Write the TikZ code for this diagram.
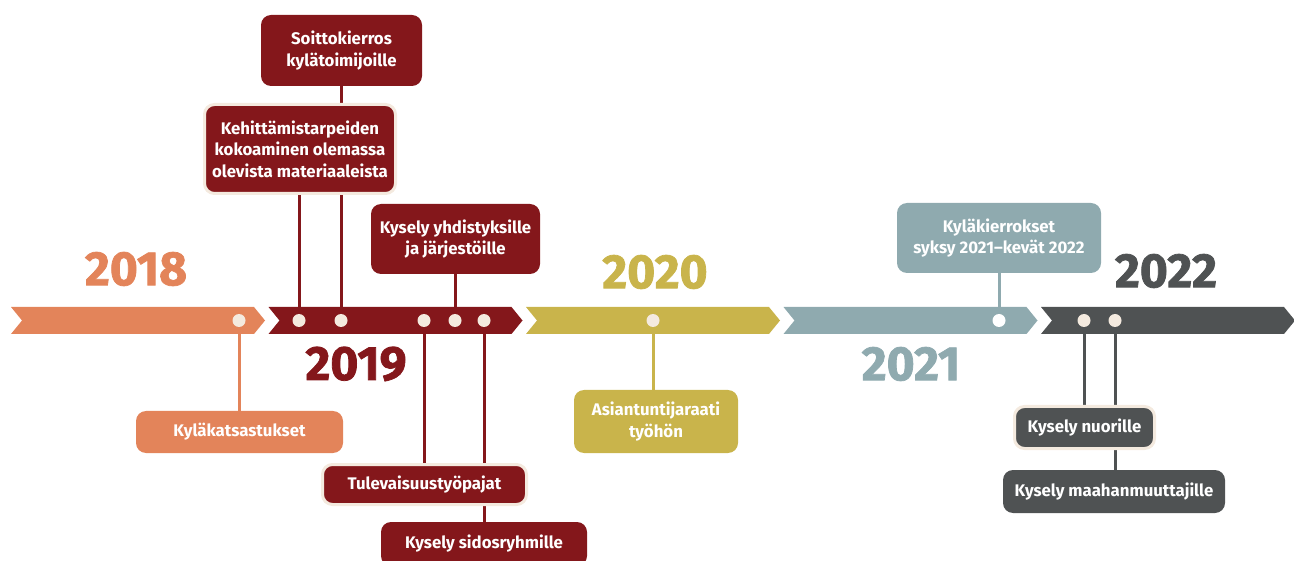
\documentclass[tikz,border=0pt]{standalone}
\usepackage{fontspec}
\setmainfont{Fira Sans}
\newfontfamily\yearfont[BoldFeatures={FakeBold=1.6}]{Fira Sans}
\usetikzlibrary{positioning,calc,backgrounds}
\definecolor{tlOrange}{HTML}{E3845A}
\definecolor{tlRed}{HTML}{84171B}
\definecolor{tlGold}{HTML}{C9B44B}
\definecolor{tlSlate}{HTML}{8FAAAF}
\definecolor{tlDark}{HTML}{4F5253}
\definecolor{tlCream}{HTML}{F4EADF}
\tikzset{
  event/.style={circle, fill=tlCream, minimum size=13pt, inner sep=0pt},
  evbox/.style={
    rounded corners=10pt, fill=#1, text=white, inner sep=0pt,
    font=\fontsize{16.8}{21.5}\selectfont\bfseries, align=center
  },
  hilite/.style={draw=tlCream, line width=3pt},
  year/.style={font=\yearfont\fontsize{48}{48}\selectfont\bfseries, text=#1, inner sep=0pt},
  stem/.style={draw=#1, line width=3pt}
}

\begin{document}
\begin{tikzpicture}[x=1pt, y=-1pt]
  \clip (0,0) rectangle (1294,561);
  % year bands
  \foreach \s/\c in {11/tlOrange, 268.5/tlRed, 526/tlGold, 783.5/tlSlate, 1041/tlDark}
    \fill[\c] (\s,307) -- (\s+243,307) -- (\s+254,320.5) -- (\s+243,334)
      -- (\s,334) -- (\s+11,320.5) -- cycle;

  \node[year=tlOrange] (y18) at (136,269) {2018};
  \node[year=tlRed] (y19) at (356,364) {2019};
  \node[year=tlGold] (y20) at (655,272) {2020};
  \node[year=tlSlate] (y21) at (911,364) {2021};
  \node[year=tlDark] (y22) at (1166,271) {2022};

  \node[event] (d-kat) at (239,320.5) {};
  \node[event] (d-keh) at (299,320.5) {};
  \node[event] (d-soi) at (341,320.5) {};
  \node[event] (d-tul) at (424,320.5) {};
  \node[event] (d-yhd) at (455,320.5) {};
  \node[event] (d-sid) at (484,320.5) {};
  \node[event] (d-asi) at (653,320.5) {};
  \node[event, fill=white] (d-kie) at (999,320.5) {};
  \node[event] (d-nuo) at (1084,320.5) {};
  \node[event] (d-maa) at (1115,320.5) {};

  \node[evbox=tlRed, minimum width=161pt, minimum height=71pt] (soi) at (341.5,50.5)
    {Soittokierros\\kylätoimijoille};
  \node[evbox=tlRed, hilite, minimum width=191pt, minimum height=89pt] (keh) at (300,149)
    {Kehittämistarpeiden\\kokoaminen olemassa\\olevista materiaaleista};
  \node[evbox=tlRed, minimum width=169pt, minimum height=70pt] (yhd) at (455.5,239)
    {Kysely yhdistyksille\\ja järjestöille};
  \node[evbox=tlOrange, minimum width=207pt, minimum height=42pt] (kat) at (239.5,432)
    {Kyläkatsastukset};
  \node[evbox=tlRed, hilite, minimum width=204pt, minimum height=40pt] (tul) at (424.5,484.5)
    {Tulevaisuustyöpajat};
  \node[evbox=tlRed, minimum width=206pt, minimum height=44pt] (sid) at (484,544)
    {Kysely sidosryhmille};
  \node[evbox=tlGold, minimum width=164pt, minimum height=63pt] (asi) at (656,421.5)
    {Asiantuntijaraati\\työhön};
  \node[evbox=tlSlate, minimum width=204pt, minimum height=70pt] (kie) at (999,238)
    {Kyläkierrokset\\syksy 2021–kevät 2022};
  \node[evbox=tlDark, hilite, minimum width=140pt, minimum height=42pt] (nuo) at (1084.5,427.5)
    {Kysely nuorille};
  \node[evbox=tlDark, minimum width=222pt, minimum height=43pt] (maa) at (1114,491.5)
    {Kysely maahanmuuttajille};

  \begin{scope}[on background layer]
    \draw[stem=tlOrange] (d-kat) -- (d-kat |- kat.north);
    \draw[stem=tlRed] (d-keh) -- (d-keh |- keh.south);
    \draw[stem=tlRed] (d-soi) -- (d-soi |- soi.south);
    \draw[stem=tlRed] (d-yhd) -- (d-yhd |- yhd.south);
    \draw[stem=tlRed] (d-tul) -- (d-tul |- tul.north);
    \draw[stem=tlRed] (d-sid) -- (d-sid |- sid.north);
    \draw[stem=tlGold] (d-asi) -- (d-asi |- asi.north);
    \draw[stem=tlSlate] (d-kie) -- (d-kie |- kie.south);
    \draw[stem=tlDark] (d-nuo) -- (d-nuo |- nuo.north);
    \draw[stem=tlDark] (d-maa) -- (d-maa |- maa.north);
  \end{scope}
\end{tikzpicture}
\end{document}
